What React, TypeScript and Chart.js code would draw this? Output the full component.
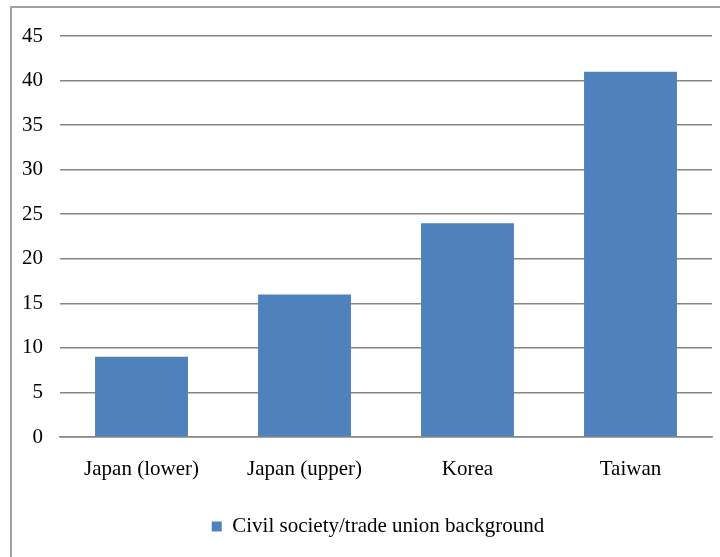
import React, { useEffect, useRef } from "react";
import { Chart, registerables } from "chart.js";

Chart.register(...registerables);

const categories = ["Japan (lower)", "Japan (upper)", "Korea", "Taiwan"];
const seriesName = "Civil society/trade union background";
const values = [9, 16, 24, 41];
const yMax = 45;
const yStep = 5;

const FONT = "'Liberation Serif', 'Times New Roman', serif";

const legendShift = {
  id: "legendShift",
  afterLayout(chart: any) {
    const legend = chart.legend;
    if (!legend || legend.__shifted) return;
    const orig = legend.draw;
    legend.draw = function (...args: any[]) {
      const ctx = chart.ctx;
      ctx.save();
      ctx.translate(22, 0);
      orig.apply(this, args);
      ctx.restore();
    };
    legend.__shifted = true;
  },
};

export default function App() {
  const ref = useRef<HTMLCanvasElement | null>(null);

  useEffect(() => {
    if (!ref.current) return;
    const chart = new Chart(ref.current, {
      type: "bar",
      data: {
        labels: categories,
        datasets: [
          {
            label: seriesName,
            data: values,
            backgroundColor: "#4F81BD",
            borderWidth: 0,
            categoryPercentage: 1,
            barPercentage: 0.57,
          },
        ],
      },
      options: {
        animation: false,
        responsive: false,
        devicePixelRatio: 1,
        layout: { padding: { left: 0, right: 8, top: 36, bottom: 10 } },
        plugins: {
          tooltip: { enabled: false },
          legend: {
            position: "bottom",
            labels: {
              boxWidth: 10,
              boxHeight: 10,
              padding: 12,
              color: "#000",
              font: { family: FONT, size: 21 },
            },
          },
        },
        scales: {
          x: {
            grid: { display: false, drawTicks: false },
            border: { display: true, color: "#868686", width: 1.5 },
            ticks: {
              color: "#000",
              font: { family: FONT, size: 21 },
              padding: 20,
              maxRotation: 0,
            },
            afterFit: (s: any) => {
              s.height = 67;
            },
          },
          y: {
            min: 0,
            max: yMax,
            grid: { color: "#868686", lineWidth: 1.5, drawTicks: false },
            border: { display: false },
            ticks: {
              stepSize: yStep,
              color: "#000",
              font: { family: FONT, size: 21 },
              padding: 17,
            },
            afterFit: (s: any) => {
              s.width = 60;
            },
          },
        },
      },
      plugins: [legendShift],
    });
    return () => chart.destroy();
  }, []);

  return (
    <div
      style={{
        position: "absolute",
        left: 0,
        top: 0,
        width: 720,
        height: 557,
        overflow: "hidden",
        background: "#fff",
      }}
    >
      <div
        style={{
          position: "absolute",
          left: 10,
          top: 6,
          width: 800,
          height: 700,
          borderLeft: "2px solid #a0a0a0",
          borderTop: "2px solid #a0a0a0",
        }}
      />
      <canvas
        ref={ref}
        width={720}
        height={557}
        style={{ position: "absolute", left: 0, top: 0 }}
      />
    </div>
  );
}
